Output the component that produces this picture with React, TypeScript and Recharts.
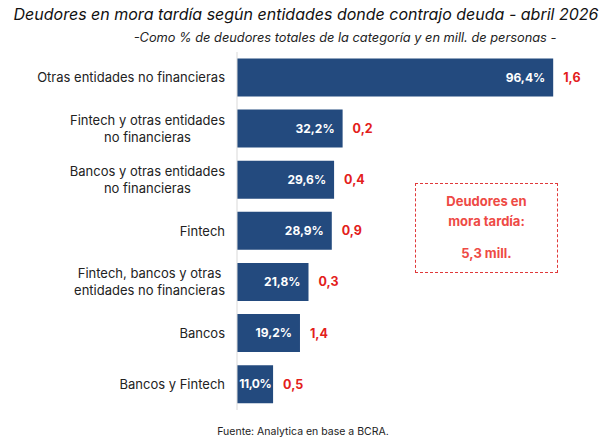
import React from "react";
import { BarChart, Bar, XAxis, YAxis, LabelList } from "recharts";

const categories = [
  "Otras entidades no financieras",
  "Fintech y otras entidades\nno financieras",
  "Bancos y otras entidades\nno financieras",
  "Fintech",
  "Fintech, bancos y otras\nentidades no financieras",
  "Bancos",
  "Bancos y Fintech",
];
const pctValues = [96.4, 32.2, 29.6, 28.9, 21.8, 19.2, 11.0];
const millValues = [1.6, 0.2, 0.4, 0.9, 0.3, 1.4, 0.5];

const data = categories.map((c, i) => ({ name: c, pct: pctValues[i], mill: millValues[i] }));

const FONT = "Inter, 'Open Sans', sans-serif";
const fmt = (v: number, d: number) => v.toFixed(d).replace(".", ",");

let ctx: CanvasRenderingContext2D | null = null;
const measure = (t: string, font: string) => {
  if (!ctx) ctx = document.createElement("canvas").getContext("2d");
  if (!ctx) return t.length * 6.5;
  ctx.font = font;
  return ctx.measureText(t).width;
};

const TICK_SIZE = 13;
const CatTick = (props: any) => {
  const { x, y, payload } = props;
  const lines = String(payload.value).split("\n");
  const font = `${TICK_SIZE}px Inter`;
  const maxW = Math.max(...lines.map((l) => measure(l, font)));
  const right = x - 4;
  const lh = 17;
  const y0 = y - ((lines.length - 1) * lh) / 2;
  if (lines.length === 1) {
    return (
      <text x={right} y={y} dy="0.35em" textAnchor="end" fontSize={TICK_SIZE} fill="#222" fontFamily={FONT}>
        {lines[0]}
      </text>
    );
  }
  return (
    <text textAnchor="middle" fontSize={TICK_SIZE} fill="#222" fontFamily={FONT}>
      {lines.map((l, i) => (
        <tspan key={i} x={right - maxW / 2} y={y0 + i * lh} dy="0.35em">
          {l}
        </tspan>
      ))}
    </text>
  );
};

const InsideLabel = (props: any) => {
  const { x, y, width, height, value } = props;
  const w = Number(width);
  const pad = w < 45 ? 2 : 8;
  return (
    <text
      x={Number(x) + w - pad}
      y={Number(y) + Number(height) / 2}
      dy="0.35em"
      textAnchor="end"
      fill="#ffffff"
      fontSize={12}
      fontWeight={700}
      fontFamily={FONT}
      letterSpacing={w < 45 ? -0.5 : 0}
    >
      {fmt(Number(value), 1) + "%"}
    </text>
  );
};

export default function App() {
  return (
    <div style={{ position: "absolute", left: 0, top: 0, width: 612, height: 444, background: "#fff", fontFamily: FONT }}>
      <div style={{ position: "absolute", left: 0, top: 4, width: 612, textAlign: "center", fontSize: 16, fontStyle: "italic", color: "#111" }}>
        Deudores en mora tardía según entidades donde contrajo deuda - abril 2026
      </div>
      <div style={{ position: "absolute", left: 80, top: 30, width: 530, textAlign: "center", fontSize: 12.8, fontStyle: "italic", color: "#222" }}>
        -Como % de deudores totales de la categoría y en mill. de personas -
      </div>
      <BarChart
        width={612}
        height={444}
        layout="vertical"
        data={data}
        margin={{ top: 52, right: 47, bottom: 34, left: 0 }}
        barCategoryGap="12.5%"
      >
        <XAxis type="number" domain={[0, 100]} hide />
        <YAxis
          type="category"
          dataKey="name"
          width={237}
          axisLine={{ stroke: "#d9d9d9" }}
          tickLine={false}
          tick={<CatTick />}
          interval={0}
        />
        <Bar dataKey="pct" fill="#234a7e" isAnimationActive={false}>
          <LabelList dataKey="pct" content={<InsideLabel />} />
          <LabelList
            dataKey="mill"
            position="right"
            offset={10}
            formatter={(v: any) => fmt(Number(v), 1)}
            fill="#e3201b"
            fontSize={12.5}
            fontWeight={700}
            fontFamily={FONT}
          />
        </Bar>
      </BarChart>
      <div
        style={{
          position: "absolute",
          left: 415,
          top: 183,
          width: 143,
          height: 90,
          boxSizing: "border-box",
          border: "1.5px dashed #e0393a",
          color: "#ee4a45",
          fontWeight: 700,
          fontSize: 13,
          textAlign: "center",
        }}
      >
        <div style={{ position: "absolute", top: 9, width: "100%" }}>Deudores en</div>
        <div style={{ position: "absolute", top: 29, width: "100%" }}>mora tardía:</div>
        <div style={{ position: "absolute", top: 61, width: "100%" }}>5,3 mill.</div>
      </div>
      <div style={{ position: "absolute", left: 0, top: 425, width: 606, textAlign: "center", fontSize: 10.5, color: "#222" }}>
        Fuente: Analytica en base a BCRA.
      </div>
    </div>
  );
}
